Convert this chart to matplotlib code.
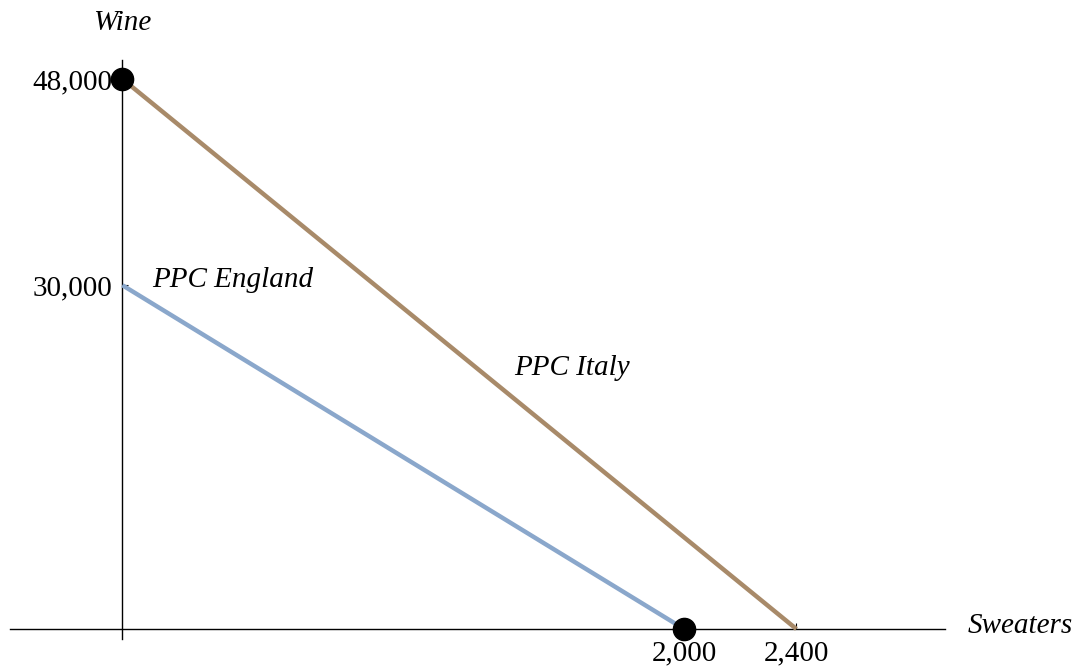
import matplotlib
matplotlib.use("Agg")
from matplotlib import pyplot as plt

# production possibility curves: (sweaters, wine) endpoints
england_x = [0, 2000]
england_y = [30000, 0]
italy_x = [0, 2400]
italy_y = [48000, 0]

dot_x = [0, 2000]
dot_y = [48000, 0]

x_ticks = [2000, 2400]
x_tick_labels = ["2,000", "2,400"]
y_ticks = [30000, 48000]
y_tick_labels = ["30,000", "48,000"]

ENGLAND_COL = "#8aa7cb"
ITALY_COL = "#a88a69"

plt.rcParams["font.family"] = ["Liberation Serif", "DejaVu Serif"]

fig = plt.figure(figsize=(10.75, 6.66), dpi=100)
W, H = 1075, 666
# axes box in pixels: left 10, right 945, top 60, bottom 639
ax = fig.add_axes([10 / W, 1 - 639 / H, (945 - 10) / W, (639 - 60) / H])
ax.set_xlim(-400, 2929)
ax.set_ylim(-873, 49650)

for side in ("top", "right"):
    ax.spines[side].set_visible(False)
ax.spines["left"].set_position(("data", 0))
ax.spines["bottom"].set_position(("data", 0))
ax.spines["left"].set_linewidth(1.0)
ax.spines["bottom"].set_linewidth(1.0)

ax.plot(italy_x, italy_y, color=ITALY_COL, lw=3.2, solid_capstyle="butt", zorder=3)
ax.plot(england_x, england_y, color=ENGLAND_COL, lw=3.2, solid_capstyle="butt", zorder=3)
ax.plot(dot_x, dot_y, "o", color="black", ms=16, zorder=4, clip_on=False)

ax.set_xticks(x_ticks)
ax.set_xticklabels(x_tick_labels)
ax.set_yticks(y_ticks)
ax.set_yticklabels(y_tick_labels)
ax.tick_params(direction="in", length=4, width=0.8, labelsize=21)
ax.tick_params(axis="x", pad=8)
ax.tick_params(axis="y", pad=7)

txt = dict(fontsize=21, style="italic")
ax.text(0, 52900, "Wine", ha="center", va="center", **txt)
ax.text(3011, 260, "Sweaters", ha="left", va="center", **txt)
ax.text(107, 30450, "PPC England", ha="left", va="center", **txt)
ax.text(1395, 22775, "PPC Italy", ha="left", va="center", **txt)

plt.savefig("out.png", dpi=100)
